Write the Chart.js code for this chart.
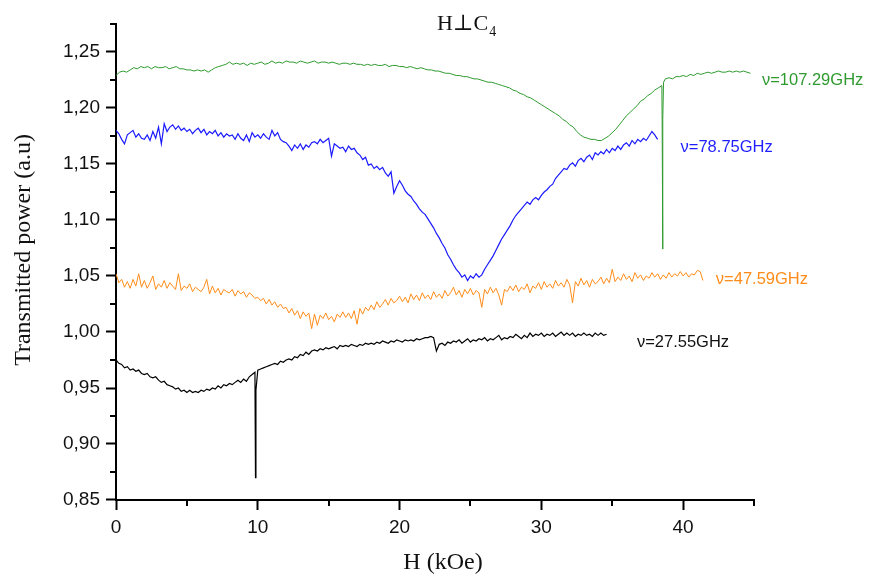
<!DOCTYPE html>
<html><head><meta charset="utf-8">
<script src="https://cdn.jsdelivr.net/npm/chart.js@4.4.0/dist/chart.umd.min.js"></script>
<style>html,body{margin:0;padding:0;background:#fff;}#wrap{width:869px;height:576px;}</style>
</head><body><div id="wrap"><canvas id="c" width="869" height="576"></canvas></div>
<script>
// ---- data (H in kOe, transmitted power in a.u.) ----
const seriesLabels = ['ν=107.29GHz', 'ν=78.75GHz', 'ν=47.59GHz', 'ν=27.55GHz'];
const xTickValues = [0, 10, 20, 30, 40];
const xMinorTicks = [5, 15, 25, 35, 45];
const yMinorTicks = [0.875, 0.925, 0.975, 1.025, 1.075, 1.125, 1.175, 1.225, 1.275];

// 107.29 GHz, sampled every 0.25 kOe from 0
const green107Step = 0.25;
const green107 = [
1.229,1.232,1.233,1.232,1.234,1.236,1.235,1.237,1.236,1.237,1.235,1.237,1.236,1.236,1.237,1.235,1.236,1.237,1.235,1.235,
1.234,1.234,1.233,1.234,1.233,1.234,1.232,1.234,1.236,1.237,1.238,1.239,1.241,1.239,1.240,1.239,1.240,1.238,1.240,1.239,
1.240,1.241,1.239,1.240,1.242,1.240,1.241,1.240,1.242,1.241,1.241,1.240,1.242,1.241,1.240,1.241,1.242,1.240,1.241,1.241,
1.240,1.241,1.240,1.239,1.240,1.240,1.239,1.240,1.239,1.239,1.238,1.239,1.238,1.239,1.238,1.238,1.239,1.237,1.238,1.238,
1.237,1.237,1.236,1.237,1.236,1.235,1.236,1.235,1.234,1.234,1.233,1.233,1.232,1.231,1.231,1.230,1.229,1.229,1.228,1.228,
1.227,1.226,1.226,1.225,1.224,1.223,1.223,1.222,1.221,1.220,1.219,1.218,1.216,1.215,1.213,1.212,1.210,1.209,1.207,1.205,
1.203,1.201,1.199,1.197,1.195,1.193,1.190,1.188,1.185,1.183,1.179,1.176,1.174,1.173,1.172,1.172,1.171,1.171,1.173,1.175,
1.178,1.181,1.185,1.189,1.193,1.196,1.199,1.202,1.206,1.208,1.211,1.213,1.216,1.218,1.220,1.226,1.227,1.226,1.228,1.228,
1.229,1.228,1.230,1.229,1.231,1.230,1.231,1.232,1.231,1.232,1.233,1.232,1.232,1.233,1.232,1.233,1.232,1.233,1.232,1.231
];
const green107Spike = [[38.52, 1.190], [38.55, 1.074], [38.58, 1.190], [38.62, 1.223]];

// 78.75 GHz, sampled every 0.2 kOe from 0
const blue78Step = 0.2;
const blue78 = [
1.180,1.177,1.172,1.168,1.176,1.178,1.180,1.174,1.177,1.173,
1.172,1.176,1.171,1.179,1.173,1.183,1.168,1.186,1.179,1.183,
1.185,1.181,1.184,1.180,1.182,1.179,1.181,1.177,1.180,1.182,
1.178,1.181,1.176,1.179,1.177,1.180,1.175,1.178,1.174,1.177,
1.175,1.176,1.172,1.177,1.173,1.171,1.176,1.170,1.178,1.174,
1.176,1.173,1.177,1.174,1.172,1.180,1.175,1.178,1.172,1.170,
1.169,1.166,1.162,1.167,1.164,1.168,1.163,1.167,1.165,1.169,
1.170,1.168,1.172,1.169,1.171,1.173,1.157,1.168,1.166,1.164,
1.165,1.161,1.166,1.163,1.164,1.160,1.158,1.154,1.156,1.149,
1.150,1.146,1.148,1.145,1.147,1.142,1.139,1.143,1.124,1.130,
1.135,1.131,1.126,1.123,1.121,1.117,1.114,1.110,1.107,1.105,
1.101,1.097,1.093,1.088,1.084,1.079,1.075,1.069,1.065,1.060,
1.056,1.053,1.049,1.051,1.046,1.050,1.048,1.052,1.049,1.051,
1.056,1.060,1.064,1.068,1.073,1.078,1.083,1.087,1.091,1.095,
1.100,1.104,1.107,1.110,1.113,1.116,1.114,1.118,1.120,1.118,
1.122,1.125,1.127,1.130,1.132,1.137,1.140,1.143,1.146,1.145,
1.149,1.151,1.148,1.153,1.155,1.152,1.156,1.158,1.154,1.160,
1.158,1.161,1.159,1.163,1.160,1.164,1.162,1.166,1.163,1.167,
1.169,1.166,1.171,1.168,1.172,1.170,1.173,1.171,1.175,1.179,
1.176,1.172
];

// 47.59 GHz, sampled every 0.2 kOe from 0
const orange47Step = 0.2;
const orange47 = [
1.052,1.044,1.047,1.040,1.045,1.039,1.047,1.041,1.052,1.040,
1.046,1.039,1.044,1.050,1.038,1.043,1.040,1.046,1.039,1.044,
1.041,1.038,1.052,1.037,1.041,1.039,1.043,1.036,1.040,1.038,
1.036,1.040,1.047,1.034,1.041,1.035,1.039,1.033,1.038,1.036,
1.035,1.038,1.032,1.037,1.034,1.036,1.031,1.035,1.033,1.030,
1.031,1.028,1.030,1.025,1.029,1.024,1.027,1.022,1.025,1.021,
1.022,1.017,1.021,1.015,1.019,1.012,1.018,1.014,1.017,1.003,
1.016,1.006,1.015,1.012,1.017,1.011,1.014,1.009,1.016,1.013,
1.018,1.013,1.017,1.012,1.019,1.007,1.021,1.016,1.022,1.019,
1.024,1.020,1.027,1.022,1.025,1.029,1.024,1.030,1.026,1.028,
1.032,1.027,1.031,1.026,1.034,1.029,1.033,1.028,1.035,1.030,
1.033,1.029,1.036,1.031,1.034,1.030,1.037,1.032,1.035,1.040,
1.033,1.037,1.031,1.038,1.034,1.039,1.033,1.037,1.035,1.022,
1.038,1.034,1.040,1.035,1.039,1.033,1.024,1.038,1.036,1.041,
1.037,1.042,1.036,1.040,1.038,1.043,1.035,1.041,1.039,1.044,
1.038,1.045,1.040,1.043,1.039,1.046,1.041,1.044,1.040,1.047,
1.042,1.026,1.045,1.041,1.048,1.042,1.046,1.040,1.047,1.043,
1.045,1.049,1.043,1.048,1.044,1.056,1.045,1.049,1.046,1.052,
1.047,1.050,1.045,1.053,1.048,1.051,1.046,1.050,1.048,1.053,
1.049,1.052,1.047,1.051,1.048,1.053,1.049,1.052,1.050,1.054,
1.050,1.053,1.049,1.052,1.051,1.055,1.054,1.046
];

// 27.55 GHz, sampled every 0.2 kOe from 0
const black27Step = 0.2;
const black27 = [
0.975,0.972,0.971,0.968,0.969,0.966,0.967,0.965,0.966,0.963,
0.962,0.963,0.960,0.959,0.960,0.957,0.955,0.956,0.953,0.952,
0.951,0.949,0.950,0.947,0.948,0.946,0.948,0.946,0.947,0.946,
0.948,0.947,0.949,0.948,0.950,0.949,0.952,0.950,0.953,0.952,
0.954,0.953,0.955,0.957,0.955,0.958,0.956,0.960,0.962,0.964,
0.966,0.967,0.968,0.969,0.970,0.971,0.972,0.971,0.974,0.973,
0.975,0.976,0.975,0.978,0.977,0.980,0.979,0.982,0.980,0.983,
0.984,0.983,0.985,0.984,0.986,0.985,0.986,0.987,0.985,0.988,
0.987,0.988,0.987,0.989,0.988,0.987,0.989,0.988,0.990,0.989,
0.990,0.989,0.991,0.990,0.992,0.991,0.990,0.992,0.991,0.993,
0.992,0.991,0.993,0.992,0.993,0.992,0.994,0.993,0.994,0.995,
0.995,0.996,0.995,0.983,0.989,0.990,0.988,0.991,0.990,0.992,
0.991,0.993,0.990,0.992,0.994,0.991,0.993,0.992,0.994,0.993,
0.995,0.992,0.994,0.993,0.995,0.997,0.993,0.995,0.994,0.996,
0.995,0.998,0.996,0.994,0.997,0.995,0.999,0.996,0.998,0.997,
0.999,0.996,0.998,0.997,0.999,0.996,0.998,1.000,0.997,0.999,
0.997,0.999,0.996,0.998,0.997,0.999,0.997,0.998,0.996,0.999,
0.997,0.999,0.997,0.998
];
const black27Spike = [[9.84, 0.870], [9.87, 0.948]];

// ---- build point lists through the sampling grid ----
function buildPoints(step, values, extra) {
  const pts = values.map((v, i) => ({ x: +(i * step).toFixed(3), y: v }));
  (extra || []).forEach(p => pts.push({ x: p[0], y: p[1] }));
  pts.sort((a, b) => a.x - b.x);
  return pts;
}

const colors = ['#2f9a2f', '#1a1aff', '#ff8c1a', '#000000'];
const labelColors = ['#2f9a2f', '#1f1fff', '#ff8c1a', '#111111'];
const labelAnchors = [
  { x: 45.56, y: 1.2247 },
  { x: 39.82, y: 1.1648 },
  { x: 42.31, y: 1.0466 },
  { x: 36.74, y: 0.9903 }
];

const fmt = v => v.toFixed(2).replace('.', ',');

const decor = {
  id: 'decor',
  afterDraw(chart) {
    const ctx = chart.ctx, xs = chart.scales.x, ys = chart.scales.y, a = chart.chartArea;
    ctx.save();
    // minor ticks
    ctx.strokeStyle = '#000'; ctx.lineWidth = 2;
    xMinorTicks.forEach(v => {
      const px = Math.round(xs.getPixelForValue(v));
      ctx.beginPath(); ctx.moveTo(px, a.bottom); ctx.lineTo(px, a.bottom + 6); ctx.stroke();
    });
    yMinorTicks.forEach(v => {
      const py = Math.round(ys.getPixelForValue(v));
      ctx.beginPath(); ctx.moveTo(a.left - 6, py); ctx.lineTo(a.left, py); ctx.stroke();
    });
    // series labels
    ctx.font = '16.5px "Liberation Sans", Arial, sans-serif';
    ctx.textAlign = 'left'; ctx.textBaseline = 'middle';
    seriesLabels.forEach((t, i) => {
      ctx.fillStyle = labelColors[i];
      ctx.fillText(t, xs.getPixelForValue(labelAnchors[i].x), ys.getPixelForValue(labelAnchors[i].y));
    });
    // title H⊥C4
    ctx.fillStyle = '#111';
    ctx.textBaseline = 'alphabetic';
    ctx.font = '22px "Liberation Serif", "DejaVu Serif", serif';
    const tx = 437, ty = 30;
    ctx.fillText('H⊥C', tx, ty);
    const w = ctx.measureText('H⊥C').width;
    ctx.font = '14px "Liberation Serif", "DejaVu Serif", serif';
    ctx.fillText('4', tx + w + 1, ty + 6);
    // axis titles
    ctx.font = '24px "Liberation Serif", "Times New Roman", serif';
    ctx.textAlign = 'center';
    ctx.fillText('H (kOe)', 443, 569);
    ctx.save();
    ctx.translate(30, 250);
    ctx.rotate(-Math.PI / 2);
    ctx.fillText('Transmitted power (a.u)', 0, 0);
    ctx.restore();
    ctx.restore();
  }
};

new Chart(document.getElementById('c'), {
  type: 'line',
  data: {
    datasets: [
      { label: seriesLabels[0], data: buildPoints(green107Step, green107, green107Spike), borderColor: colors[0], borderWidth: 1 },
      { label: seriesLabels[1], data: buildPoints(blue78Step, blue78), borderColor: colors[1], borderWidth: 1.2 },
      { label: seriesLabels[2], data: buildPoints(orange47Step, orange47), borderColor: colors[2], borderWidth: 1 },
      { label: seriesLabels[3], data: buildPoints(black27Step, black27, black27Spike), borderColor: colors[3], borderWidth: 1.2 }
    ]
  },
  options: {
    responsive: false,
    animation: false,
    devicePixelRatio: 1,
    layout: { padding: { left: 0, right: 115, top: 24, bottom: 0 } },
    elements: { point: { radius: 0 }, line: { tension: 0 } },
    plugins: { legend: { display: false }, tooltip: { enabled: false }, title: { display: false } },
    scales: {
      x: {
        type: 'linear', min: 0, max: 45,
        afterFit(s) { s.height = 76; },
        afterBuildTicks(s) { s.ticks = xTickValues.map(v => ({ value: v })); },
        ticks: { font: { family: '"Liberation Sans", Arial, sans-serif', size: 19 }, color: '#111', padding: 6, maxRotation: 0 },
        grid: { display: true, drawOnChartArea: false, drawTicks: true, tickLength: 10, tickWidth: 2, tickColor: '#000' },
        border: { display: true, color: '#000', width: 2 }
      },
      y: {
        type: 'linear', min: 0.85, max: 1.275,
        afterFit(s) { s.width = 116; },
        ticks: { stepSize: 0.05, includeBounds: false, callback: v => fmt(v), font: { family: '"Liberation Sans", Arial, sans-serif', size: 19 }, color: '#111', padding: 6 },
        grid: { display: true, drawOnChartArea: false, drawTicks: true, tickLength: 10, tickWidth: 2, tickColor: '#000' },
        border: { display: true, color: '#000', width: 2 }
      }
    }
  },
  plugins: [decor]
});
</script>
</body></html>
